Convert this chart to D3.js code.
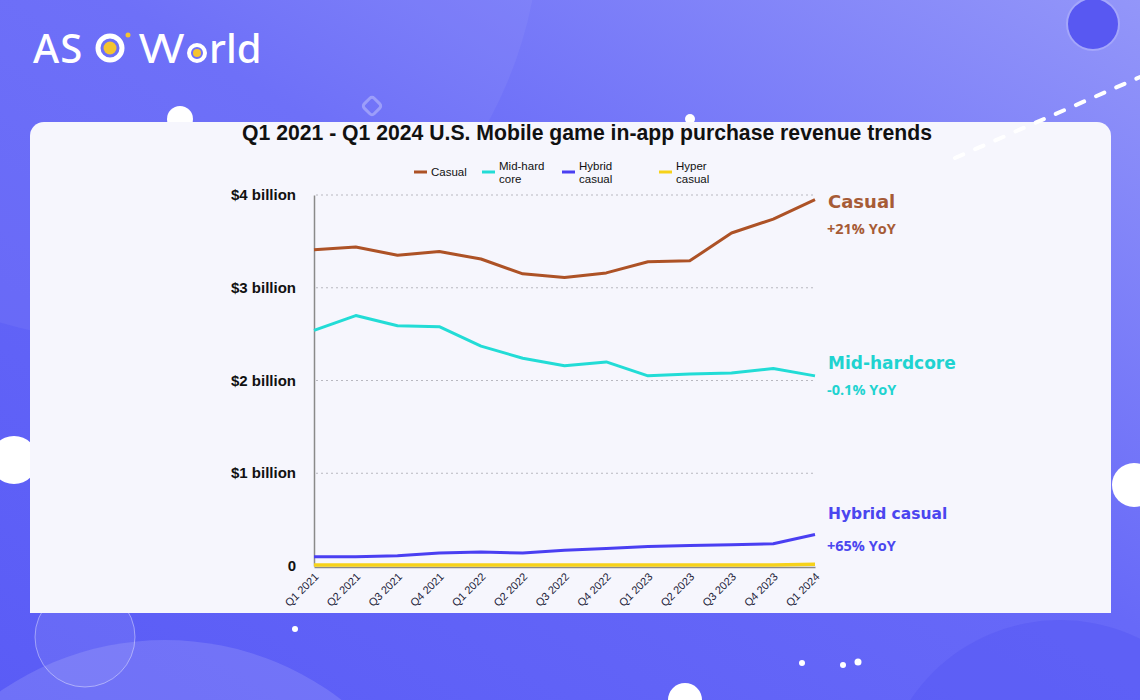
<!DOCTYPE html>
<html><head><meta charset="utf-8">
<script src="https://cdn.jsdelivr.net/npm/d3@7/dist/d3.min.js"></script>
<style>body{margin:0;overflow:hidden}svg{display:block}</style>
</head><body>
<script>
const quarters = ["Q1 2021","Q2 2021","Q3 2021","Q4 2021","Q1 2022","Q2 2022","Q3 2022","Q4 2022","Q1 2023","Q2 2023","Q3 2023","Q4 2023","Q1 2024"];
const casual = [3.41,3.44,3.35,3.39,3.31,3.15,3.11,3.16,3.28,3.29,3.59,3.74,3.95];
const midHardcore = [2.54,2.70,2.59,2.58,2.37,2.24,2.16,2.20,2.05,2.07,2.08,2.13,2.05];
const hybridCasual = [0.10,0.10,0.11,0.14,0.15,0.14,0.17,0.19,0.21,0.22,0.23,0.24,0.34];
const hyperCasual = [0.01,0.01,0.01,0.01,0.01,0.01,0.01,0.01,0.01,0.01,0.01,0.01,0.02];
const yTicks = [0,1,2,3,4];
const yTickLabels = ["0","$1 billion","$2 billion","$3 billion","$4 billion"];
const legendNames = [["Casual"],["Mid-hard","core"],["Hybrid","casual"],["Hyper","casual"]];
const annotations = [["Casual","+21% YoY"],["Mid-hardcore","-0.1% YoY"],["Hybrid casual","+65% YoY"]];
const seriesColors = ["#ad5226","#22dcd6","#4a3ff2","#f6d21a"];
const annoColors = ["#a65b36","#1fd3d0","#4b46ef"];

const W=1140,H=700;
const svg=d3.select("body").append("svg").attr("width",W).attr("height",H);
const defs=svg.append("defs");
const bg=defs.append("linearGradient").attr("id","bg").attr("x1","0").attr("y1","1").attr("x2","1").attr("y2","0");
bg.append("stop").attr("offset","0").attr("stop-color","#5a5cf6");
bg.append("stop").attr("offset","0.55").attr("stop-color","#6769f8");
bg.append("stop").attr("offset","1").attr("stop-color","#9396f9");
svg.append("rect").attr("width",W).attr("height",H).attr("fill","url(#bg)");

// decorations
svg.append("circle").attr("cx",120).attr("cy",-80).attr("r",420).attr("fill","#ffffff").attr("opacity",0.05);
svg.append("circle").attr("cx",1093).attr("cy",24).attr("r",26).attr("fill","#5858f2").attr("stroke","#a4a6fb").attr("stroke-width",2);
svg.append("circle").attr("cx",165).attr("cy",930).attr("r",290).attr("fill","#ffffff").attr("opacity",0.13);
svg.append("circle").attr("cx",85).attr("cy",637).attr("r",50).attr("fill","#ffffff").attr("fill-opacity",0.08).attr("stroke","#ffffff").attr("stroke-opacity",0.4);
svg.append("circle").attr("cx",1060).attr("cy",800).attr("r",180).attr("fill","#5557f4").attr("opacity",0.5);
const dots=[[180,119,13],[14,460,24],[1134,485,22],[685,700,17],[690,119,5],[295,629,3],[802,663,3],[843,665,3],[858,662,3.5],[85,515,2],[72,518,2],[98,518,2],[85,528,2]];
svg.selectAll("circle.dot").data(dots).join("circle").attr("class","dot").attr("cx",d=>d[0]).attr("cy",d=>d[1]).attr("r",d=>d[2]).attr("fill","#fff");
svg.append("rect").attr("x",365).attr("y",99).attr("width",14).attr("height",14).attr("rx",3).attr("transform","rotate(45 372 106)").attr("fill","none").attr("stroke","#ffffff").attr("stroke-opacity",0.3).attr("stroke-width",3);

// logo
const logo=svg.append("g").attr("font-family","'Noto Sans', 'Open Sans', sans-serif").attr("font-size",40).attr("font-weight",500).attr("fill","#fff");
logo.append("text").attr("x",33).attr("y",63).attr("letter-spacing","1").text("AS");
logo.append("circle").attr("cx",110).attr("cy",48).attr("r",12).attr("fill","none").attr("stroke","#fff").attr("stroke-width",5);
logo.append("circle").attr("cx",110).attr("cy",48).attr("r",6.5).attr("fill","#f4c430");
logo.append("circle").attr("cx",128).attr("cy",35).attr("r",2.5).attr("fill","#f4c430");
logo.append("text").attr("x",139).attr("y",63).attr("letter-spacing","-4").text("VV");
logo.append("circle").attr("cx",197).attr("cy",53).attr("r",8).attr("fill","none").attr("stroke","#fff").attr("stroke-width",4);
logo.append("circle").attr("cx",197).attr("cy",53).attr("r",4).attr("fill","#f4c430");
logo.append("text").attr("x",209).attr("y",63).text("rld");

// card
svg.append("rect").attr("x",30).attr("y",122).attr("width",1081).attr("height",491).attr("rx",14).attr("fill","#f6f6fd");
svg.append("rect").attr("x",30).attr("y",590).attr("width",1081).attr("height",23).attr("fill","#f6f6fd");
svg.append("line").attr("x1",955).attr("y1",158).attr("x2",1140).attr("y2",77).attr("stroke","#fff").attr("stroke-width",4).attr("stroke-linecap","round").attr("stroke-dasharray","9 13");

// title
svg.append("text").attr("x",587).attr("y",140).attr("text-anchor","middle").attr("font-family","Arial, 'Liberation Sans', sans-serif").attr("font-size",21.2).attr("font-weight",700).attr("fill","#111").text("Q1 2021 - Q1 2024 U.S. Mobile game in-app purchase revenue trends");

// scales
const x=d3.scalePoint().domain(quarters).range([314,815]);
const y=d3.scaleLinear().domain([0,4]).range([566,195]);

// grid
svg.append("g").selectAll("line").data(yTicks.filter(d=>d>0)).join("line")
 .attr("x1",316).attr("x2",815).attr("y1",d=>y(d)).attr("y2",d=>y(d))
 .attr("stroke","#b8b8c0").attr("stroke-width",1).attr("stroke-dasharray","2 3");

// y axis
const yAxis=svg.append("g").attr("transform","translate(314,0)").call(d3.axisLeft(y).tickValues(yTicks).tickSize(0).tickFormat((d,i)=>yTickLabels[i]));
yAxis.select(".domain").attr("stroke","#8a8a8a").attr("stroke-width",1.5);
yAxis.selectAll("text").attr("x",-18).attr("dy","0.3em").attr("font-family","Arial, 'Liberation Sans', sans-serif").attr("font-size",15).attr("font-weight",700).attr("fill","#111");

// x axis
const xAxis=svg.append("g").attr("transform","translate(0,567)").call(d3.axisBottom(x).tickSize(0));
xAxis.select(".domain").attr("stroke","#8a8a8a").attr("stroke-width",1.5);
xAxis.selectAll("text").attr("text-anchor","end").attr("transform","rotate(-45)").attr("x",-4).attr("y",7).attr("dy","0.35em")
 .attr("font-family","'Liberation Sans', Arial, sans-serif").attr("font-size",11).attr("fill","#1d1d3a");

// lines
const series=[casual,midHardcore,hybridCasual,hyperCasual];
const line=d3.line().x((d,i)=>x(quarters[i])).y(d=>y(d));
svg.append("g").selectAll("path").data(series).join("path")
 .attr("d",d=>line(d)).attr("fill","none").attr("stroke",(d,i)=>seriesColors[i]).attr("stroke-width",(d,i)=>i===3?3.5:3).attr("stroke-linejoin","round");

// legend
const legX=[414,482,562,659];
const leg=svg.append("g").attr("font-family","Arial, 'Liberation Sans', sans-serif").attr("font-size",11.5).attr("fill","#111");
legendNames.forEach((n,i)=>{
  leg.append("line").attr("x1",legX[i]).attr("x2",legX[i]+13).attr("y1",172).attr("y2",172).attr("stroke",seriesColors[i]).attr("stroke-width",3);
  const t=leg.append("text").attr("x",legX[i]+17).attr("y",n.length===1?176:170);
  n.forEach((s,k)=>t.append("tspan").attr("x",legX[i]+17).attr("dy",k===0?0:12.5).text(s));
});

// annotations
const annoY=[[202,229],[363,390],[513,546]];
annotations.forEach((a,i)=>{
  svg.append("text").attr("x",828).attr("y",annoY[i][0]+6).attr("font-family","'DejaVu Sans', Verdana, sans-serif").attr("font-size",i===2?15.5:i===0?18:17).attr("font-weight",700).attr("fill",annoColors[i]).text(a[0]);
  svg.append("text").attr("x",827).attr("y",annoY[i][1]+5).attr("font-family","'Open Sans', sans-serif").attr("font-size",14.5).attr("font-weight",700).attr("fill",annoColors[i]).text(a[1]);
});
</script>
</body></html>
